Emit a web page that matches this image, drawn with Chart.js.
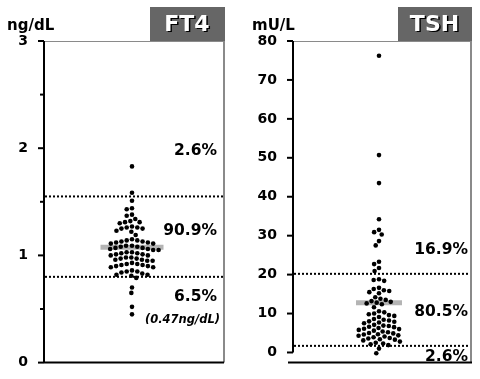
<!DOCTYPE html>
<html><head><meta charset="utf-8">
<script src="https://cdn.jsdelivr.net/npm/chart.js@4.4.1/dist/chart.umd.min.js"></script>
<style>
html,body{margin:0;padding:0;background:#fff;}
#wrap{position:relative;width:480px;height:379px;overflow:hidden;}
.c{position:absolute;top:0;width:240px;height:379px;}
</style></head><body>
<div id="wrap">
<div class="c" style="left:0"><canvas id="ft4" width="240" height="379"></canvas></div>
<div class="c" style="left:240px"><canvas id="tsh" width="240" height="379"></canvas></div>
</div>
<script>
// ---------- data ----------
const ft4Values = [1.83, 1.585,
  1.51, 1.44, 1.43, 1.38, 1.37,
  1.34, 1.32, 1.31, 1.31, 1.30,
  1.27, 1.26, 1.26, 1.25, 1.25,
  1.23, 1.22, 1.19,
  1.15, 1.14, 1.14, 1.13, 1.13, 1.12, 1.12, 1.11, 1.11,
  1.09, 1.09, 1.08, 1.08, 1.07, 1.07, 1.06, 1.06, 1.05, 1.05,
  1.03, 1.03, 1.02, 1.02, 1.01, 1.01, 1.00, 1.00,
  0.98, 0.98, 0.97, 0.97, 0.96, 0.96, 0.95, 0.95,
  0.93, 0.92, 0.92, 0.91, 0.91, 0.90, 0.90, 0.89, 0.89,
  0.86, 0.85, 0.85, 0.84, 0.83, 0.82, 0.82, 0.81,
  0.79, 0.70, 0.65, 0.52, 0.45];
const ft4Median = 1.077;
const ft4RefLines = [1.55, 0.80];
const ft4TickLabels = [0, 1, 2, 3];
const ft4MinorTicks = [0.5, 1.5, 2.5];
const ft4Percents = ["2.6%", "90.9%", "6.5%"];
const ft4Note = "(0.47ng/dL)";

const tshValues = [76.2, 50.7, 43.5, 34.2, 31.5, 30.9, 30.3, 28.6, 27.5, 23.3, 22.7, 21.7, 20.9,
  18.8, 18.6, 18.4,
  16.6, 16.3, 16.0, 15.8, 15.5, 15.2,
  14.2, 13.8, 13.5, 13.2, 13.0, 12.8, 12.6, 12.4,
  11.6, 10.6, 10.3, 10.0, 9.8, 9.6, 9.4, 9.1,
  8.6, 8.4, 8.2, 8.0, 7.9, 7.7, 7.5,
  7.1, 6.9, 6.8, 6.6, 6.5, 6.3, 6.1, 6.0,
  5.8, 5.6, 5.4, 5.2, 5.0, 4.9, 4.7, 4.6, 4.4, 4.3, 4.1,
  3.9, 3.7, 3.6, 3.4, 3.3, 3.1,
  2.8, 2.5, 2.3, 2.1, 1.9,
  1.0, -0.2];
const tshMedian = 12.8;
const tshRefLines = [20.2, 1.7];
const tshTickLabels = [0, 10, 20, 30, 40, 50, 60, 70, 80];
const tshPercents = ["16.9%", "80.5%", "2.6%"];

// ---------- helpers ----------
const FONT = "'DejaVu Sans', 'Liberation Sans', Arial, sans-serif";

function swarm(ys, D) {
  const idx = ys.map((y, i) => i).sort((a, b) => ys[a] - ys[b]);
  const placed = [];
  const xs = new Array(ys.length).fill(0);
  for (const i of idx) {
    const y = ys[i];
    const iv = [];
    for (const p of placed) {
      const dy = Math.abs(p.y - y);
      if (dy < D) { const w = Math.sqrt(D * D - dy * dy); iv.push([p.x - w, p.x + w]); }
    }
    const cands = [0];
    iv.forEach(v => cands.push(v[0], v[1]));
    cands.sort((a, b) => Math.abs(a) - Math.abs(b));
    let x = 0;
    for (const c of cands) {
      if (iv.every(v => c <= v[0] + 1e-6 || c >= v[1] - 1e-6)) { x = c; break; }
    }
    xs[i] = x;
    placed.push({ x, y });
  }
  return xs;
}

function makePanel(cfg) {
  const deco = {
    id: 'deco',
    beforeDatasetsDraw(chart) {
      const ctx = chart.ctx, a = chart.chartArea, ys = chart.scales.y;
      ctx.save();
      ctx.strokeStyle = '#8a8a8a';
      ctx.lineWidth = 1;
      ctx.beginPath(); ctx.moveTo(a.left, a.top + 0.5); ctx.lineTo(a.right, a.top + 0.5); ctx.stroke();
      ctx.lineWidth = 2;
      ctx.beginPath(); ctx.moveTo(a.right, a.top); ctx.lineTo(a.right, a.bottom); ctx.stroke();
      ctx.strokeStyle = '#000';
      ctx.lineWidth = 2;
      const axBottom = ys.getPixelForValue(cfg.axisEnd);
      ctx.beginPath(); ctx.moveTo(a.left, a.top); ctx.lineTo(a.left, axBottom); ctx.stroke();
      ctx.beginPath(); ctx.moveTo(a.left + cfg.bottomStart, a.bottom); ctx.lineTo(a.right + cfg.bottomEnd, a.bottom); ctx.stroke();
      cfg.ticks.forEach(v => {
        const y = ys.getPixelForValue(v);
        ctx.beginPath(); ctx.moveTo(a.left - 6, y); ctx.lineTo(a.left, y); ctx.stroke();
      });
      (cfg.minor || []).forEach(v => {
        const y = ys.getPixelForValue(v);
        ctx.beginPath(); ctx.moveTo(a.left - 4, y); ctx.lineTo(a.left, y); ctx.stroke();
      });
      ctx.restore();
    },
    afterDraw(chart) {
      const ctx = chart.ctx, a = chart.chartArea;
      ctx.save();
      ctx.fillStyle = '#666666';
      ctx.fillRect(cfg.boxX, 7, a.right + 1 - cfg.boxX, a.top - 7);
      ctx.font = "bold 22px " + FONT;
      ctx.textAlign = 'center';
      ctx.textBaseline = 'middle';
      const cx = (cfg.boxX + a.right) / 2;
      ctx.fillStyle = '#000';
      ctx.fillText(cfg.title, cx + 1.5, 25 + 1.5);
      ctx.fillStyle = '#fff';
      ctx.fillText(cfg.title, cx, 25);
      ctx.fillStyle = '#000';
      ctx.font = "bold 15px " + FONT;
      ctx.textAlign = 'left';
      ctx.textBaseline = 'alphabetic';
      ctx.fillText(cfg.unit, cfg.unitX, 30);
      ctx.font = "bold 15.5px " + FONT;
      ctx.textAlign = 'right';
      ctx.textBaseline = 'middle';
      cfg.percents.forEach((t, i) => ctx.fillText(t, cfg.pctRight, cfg.pctY[i]));
      if (cfg.note) {
        ctx.font = "italic bold 11.5px " + FONT;
        ctx.fillText(cfg.note, cfg.noteRight, cfg.noteY);
      }
      ctx.restore();
    }
  };

  const datasets = [
    { type: 'scatter', data: cfg.values.map(v => ({ x: 0, y: v })), backgroundColor: '#000', borderWidth: 0, pointRadius: 2.3, pointHoverRadius: 2.3 },
    { type: 'line', data: [{ x: -cfg.halfBar, y: cfg.median }, { x: cfg.halfBar, y: cfg.median }], borderColor: '#b4b4b4', borderWidth: 5, pointRadius: 0, borderCapStyle: 'butt' }
  ];
  cfg.refs.forEach(v => datasets.push({
    type: 'line', data: [{ x: cfg.xmin + 1, y: v }, { x: cfg.xmax - 1, y: v }],
    borderColor: '#000', borderWidth: 2, borderDash: [2, 2], pointRadius: 0, borderCapStyle: 'butt'
  }));

  const chart = new Chart(document.getElementById(cfg.id), {
    type: 'scatter',
    data: { datasets },
    options: {
      responsive: false, animation: false, devicePixelRatio: 1,
      layout: { padding: { top: 41, bottom: 15, right: cfg.padRight, left: 0 } },
      plugins: { legend: { display: false }, tooltip: { enabled: false } },
      scales: {
        x: { type: 'linear', min: cfg.xmin, max: cfg.xmax, display: false },
        y: {
          min: cfg.ymin, max: cfg.ymax,
          afterFit(s) { s.width = cfg.yWidth; },
          afterBuildTicks(s) { s.ticks = cfg.ticks.map(v => ({ value: v })); },
          grid: { display: false }, border: { display: false },
          ticks: { color: '#000', padding: 8, font: { family: FONT, size: 14, weight: 'bold' } }
        }
      }
    },
    plugins: [deco]
  });
  const ys = cfg.values.map(v => chart.scales.y.getPixelForValue(v));
  const offs = swarm(ys, 5.4);
  const c0 = chart.scales.x.getPixelForValue(0);
  chart.data.datasets[0].data = cfg.values.map((v, i) => ({ x: chart.scales.x.getValueForPixel(c0 + offs[i]), y: v }));
  chart.update('none');
  return chart;
}

makePanel({
  id: 'ft4', values: ft4Values, median: ft4Median, refs: ft4RefLines,
  ticks: ft4TickLabels, minor: ft4MinorTicks, ymin: 0, ymax: 3, axisEnd: 0,
  xmin: -88, xmax: 92, halfBar: 31.5, yWidth: 44, padRight: 16,
  bottomStart: 0, bottomEnd: 0,
  title: 'FT4', boxX: 150, unit: 'ng/dL', unitX: 7,
  percents: ft4Percents, pctRight: 217, pctY: [151, 231, 297],
  note: ft4Note, noteRight: 220, noteY: 320
});

makePanel({
  id: 'tsh', values: tshValues, median: tshMedian, refs: tshRefLines,
  ticks: tshTickLabels, minor: [], ymin: -2.6, ymax: 80, axisEnd: 0,
  xmin: -86, xmax: 92, halfBar: 23, yWidth: 53, padRight: 9,
  bottomStart: -5, bottomEnd: 1,
  title: 'TSH', boxX: 158, unit: 'mU/L', unitX: 12,
  percents: tshPercents, pctRight: 228, pctY: [250, 312, 357]
});
</script>
</body></html>
